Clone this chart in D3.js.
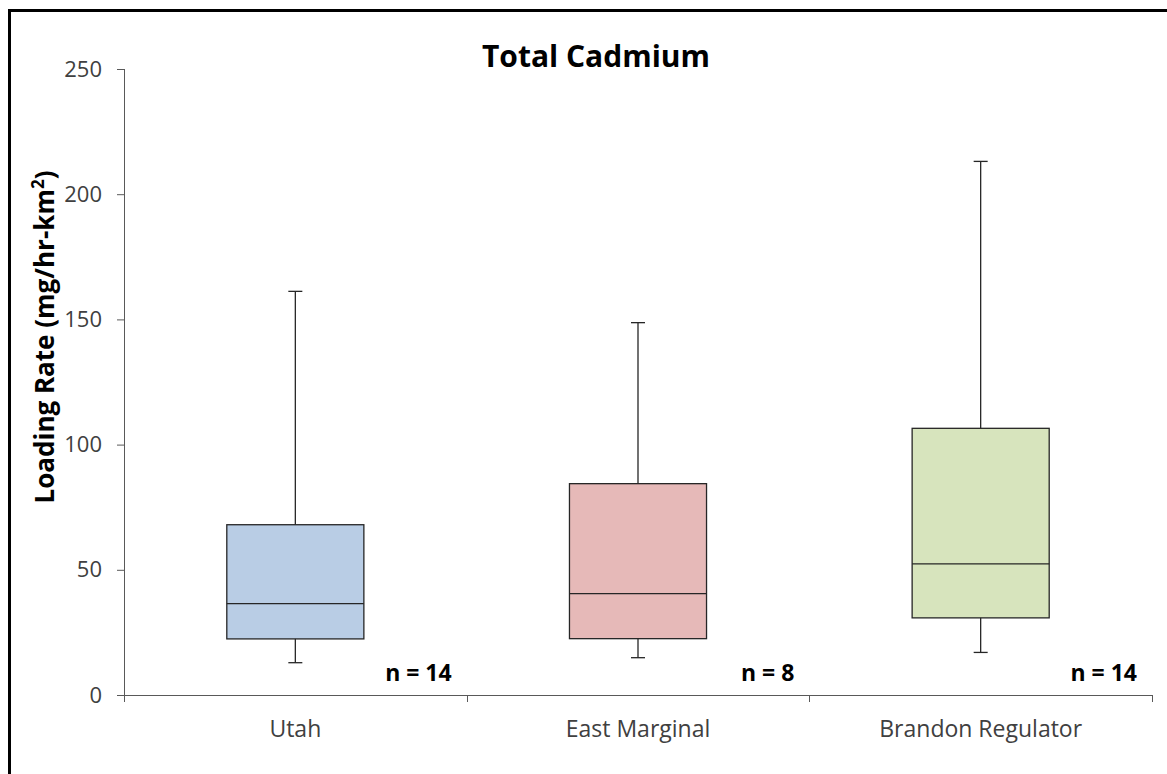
<!DOCTYPE html>
<html lang="en">
<head>
  <meta charset="UTF-8">
  <title>Total Cadmium</title>
  <script src="https://cdn.jsdelivr.net/npm/d3@7"></script>
  <style>
    body { margin: 0; background: #fff; }
    text { font-family: "Open Sans", sans-serif; }
  </style>
</head>
<body>
  <svg width="1167" height="774"></svg>
  <script>
    var sites = ['Utah', 'East Marginal', 'Brandon Regulator'];
    var mins = [12.9, 14.9, 17.0];
    var q1s = [22.4, 22.5, 30.8];
    var medians = [36.5, 40.5, 52.4];
    var q3s = [68.0, 84.4, 106.5];
    var maxs = [161.2, 148.7, 213.1];
    var counts = [14, 8, 14];
    var fills = ['#b9cde5', '#e6b9b8', '#d7e4bd'];
    var yTicks = [0, 50, 100, 150, 200, 250];

    var svg = d3.select('svg');
    var margin = {top: 69, right: 15, bottom: 79, left: 124};
    var width = svg.attr('width') - margin.left - margin.right;
    var height = svg.attr('height') - margin.top - margin.bottom;

    // frame (left and top edges visible)
    svg.append('line').attr('x1', 9.5).attr('x2', 9.5).attr('y1', 9).attr('y2', 774)
      .attr('stroke', '#000').attr('stroke-width', 3);
    svg.append('line').attr('x1', 8).attr('x2', 1167).attr('y1', 10.5).attr('y2', 10.5)
      .attr('stroke', '#000').attr('stroke-width', 3);

    var chart = svg.append('g')
      .attr('transform', 'translate(' + margin.left + ',' + margin.top + ')');

    var x = d3.scaleBand().domain(sites).range([0, width]).padding(0);
    var y = d3.scaleLinear().domain([0, 250]).range([height, 0]);

    var yAxis = d3.axisLeft(y).tickValues(yTicks).tickSize(7).tickPadding(15);
    var gy = chart.append('g').attr('class', 'y-axis').call(yAxis);
    gy.select('.domain').attr('d', 'M0.5,0V' + height).attr('stroke', '#595959');
    gy.selectAll('.tick line').attr('stroke', '#595959');
    gy.selectAll('.tick text').attr('fill', '#404040').style('font-size', '22px');

    // x axis with ticks at category boundaries
    var gx = chart.append('g').attr('class', 'x-axis')
      .attr('transform', 'translate(0,' + height + ')');
    gx.append('line').attr('x1', -7).attr('x2', width).attr('y1', 0.5).attr('y2', 0.5)
      .attr('stroke', '#595959');
    var bounds = sites.map(function(s) { return x(s); }).concat([width]);
    gx.selectAll('.btick').data(bounds).enter().append('line')
      .attr('x1', function(d) { return Math.round(d) + 0.5; })
      .attr('x2', function(d) { return Math.round(d) + 0.5; })
      .attr('y1', 0).attr('y2', 7).attr('stroke', '#595959');
    gx.selectAll('.lbl').data(sites).enter().append('text')
      .attr('x', function(d) { return x(d) + x.bandwidth() / 2; })
      .attr('y', 42)
      .attr('text-anchor', 'middle')
      .attr('fill', '#404040')
      .style('font-size', '23px')
      .text(function(d) { return d; });

    var boxW = x.bandwidth() * 0.4;
    var capW = 14;
    var boxes = chart.selectAll('.box').data(sites).enter().append('g')
      .attr('transform', function(d) { return 'translate(' + (x(d) + x.bandwidth() / 2) + ',0)'; });

    boxes.append('line')
      .attr('x1', 0).attr('x2', 0)
      .attr('y1', function(d, i) { return y(maxs[i]); })
      .attr('y2', function(d, i) { return y(mins[i]); })
      .attr('stroke', '#262626').attr('stroke-width', 1.3);
    boxes.append('line')
      .attr('x1', -capW / 2).attr('x2', capW / 2)
      .attr('y1', function(d, i) { return y(maxs[i]); })
      .attr('y2', function(d, i) { return y(maxs[i]); })
      .attr('stroke', '#262626').attr('stroke-width', 1.3);
    boxes.append('line')
      .attr('x1', -capW / 2).attr('x2', capW / 2)
      .attr('y1', function(d, i) { return y(mins[i]); })
      .attr('y2', function(d, i) { return y(mins[i]); })
      .attr('stroke', '#262626').attr('stroke-width', 1.3);
    boxes.append('rect')
      .attr('x', -boxW / 2).attr('width', boxW)
      .attr('y', function(d, i) { return y(q3s[i]); })
      .attr('height', function(d, i) { return y(q1s[i]) - y(q3s[i]); })
      .attr('fill', function(d, i) { return fills[i]; })
      .attr('stroke', '#262626').attr('stroke-width', 1.3);
    boxes.append('line')
      .attr('x1', -boxW / 2).attr('x2', boxW / 2)
      .attr('y1', function(d, i) { return y(medians[i]); })
      .attr('y2', function(d, i) { return y(medians[i]); })
      .attr('stroke', '#262626').attr('stroke-width', 1.3);

    chart.selectAll('.nlbl').data(sites).enter().append('text')
      .attr('x', function(d) { return x(d) + x.bandwidth() - 15; })
      .attr('y', height - 14)
      .attr('text-anchor', 'end')
      .attr('font-weight', 'bold')
      .attr('fill', '#000')
      .style('font-size', '23px')
      .text(function(d, i) { return 'n = ' + counts[i]; });

    svg.append('text')
      .attr('x', 596).attr('y', 67)
      .attr('text-anchor', 'middle')
      .attr('font-weight', 'bold')
      .style('font-size', '30px')
      .text('Total Cadmium');

    var yl = svg.append('text')
      .attr('transform', 'translate(54,337) rotate(-90)')
      .attr('text-anchor', 'middle')
      .attr('font-weight', 'bold')
      .style('font-size', '26px');
    yl.append('tspan').text('Loading Rate (mg/hr-km');
    yl.append('tspan').attr('dy', -10).style('font-size', '17px').text('2');
    yl.append('tspan').attr('dy', 10).text(')');
  </script>
</body>
</html>
